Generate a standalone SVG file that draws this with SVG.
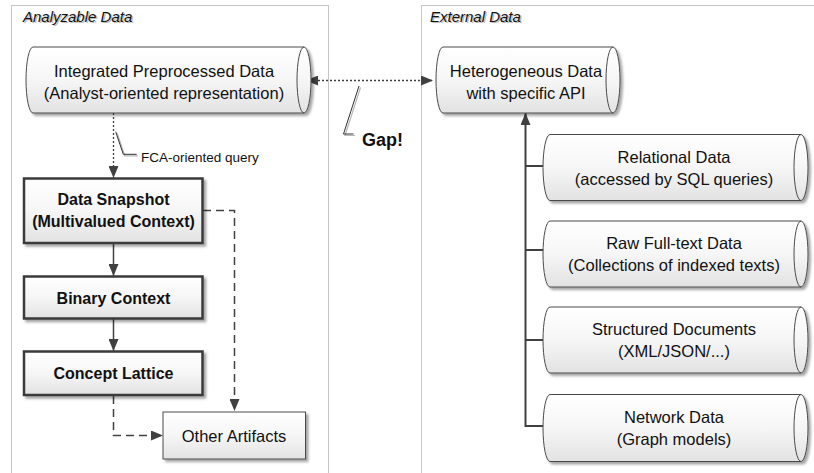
<svg xmlns="http://www.w3.org/2000/svg" width="814" height="473" viewBox="0 0 814 473">
  <style>
    .lbl { font-family: "Liberation Sans", Arial, sans-serif; font-size: 16.5px; fill: #111; text-anchor: middle; }
    .bold { font-family: "Liberation Sans", Arial, sans-serif; font-size: 16px; font-weight: bold; fill: #111; text-anchor: middle; }
    .title { font-family: "Liberation Sans", Arial, sans-serif; font-size: 15px; font-style: italic; fill: #111; }
    .title-sh { font-family: "Liberation Sans", Arial, sans-serif; font-size: 15px; font-style: italic; fill: #bdbdbd; }
    .note { font-family: "Liberation Sans", Arial, sans-serif; font-size: 13.5px; fill: #111; }
    .gap { font-family: "Liberation Sans", Arial, sans-serif; font-size: 18px; font-weight: bold; fill: #111; }
    .frame { fill: none; stroke: #8a8a8a; stroke-width: 1; stroke-dasharray: 1 1; }
    .cyl { fill: url(#shade); stroke: #4a4a4a; stroke-width: 1; }
    .cyl-end { fill: none; stroke: #4a4a4a; stroke-width: 1; }
    .box-strong { fill: url(#shade); stroke: #3a3a3a; stroke-width: 2.5; }
    .box-thin { fill: url(#shade); stroke: #4a4a4a; stroke-width: 1; }
    .solid { fill: none; stroke: #404040; stroke-width: 1.5; }
    .trunk { fill: none; stroke: #404040; stroke-width: 2; }
    .dashed { fill: none; stroke: #404040; stroke-width: 1.5; stroke-dasharray: 8 5; }
    .dotted { fill: none; stroke: #404040; stroke-width: 1.3; stroke-dasharray: 2 2; }
    .callout { fill: none; stroke: #303030; stroke-width: 1; }
    .callout-sh { fill: none; stroke: #b8b8b8; stroke-width: 1.2; }
  </style>
  <defs>
    <linearGradient id="shade" x1="0" y1="0" x2="0" y2="1">
      <stop offset="0" stop-color="#ffffff"/>
      <stop offset="0.5" stop-color="#f6f6f6"/>
      <stop offset="1" stop-color="#e2e2e2"/>
    </linearGradient>
    <filter id="drop" x="-10%" y="-10%" width="130%" height="140%">
      <feDropShadow dx="2.5" dy="2.5" stdDeviation="1.2" flood-color="#000" flood-opacity="0.35"/>
    </filter>
    <marker id="head" markerUnits="userSpaceOnUse" markerWidth="12" markerHeight="10" refX="12" refY="5" orient="auto-start-reverse">
      <path d="M0,0 L12,5 L0,10 Z" fill="#404040"/>
    </marker>
  </defs>

  <!-- containers -->
  <g id="analyzable-data">
    <rect class="frame" x="11.5" y="5.5" width="317" height="480"/>
    <text class="title-sh" x="24.5" y="23">Analyzable Data</text>
    <text class="title" x="23" y="21.5">Analyzable Data</text>
  </g>
  <g id="external-data">
    <rect class="frame" x="421.5" y="5.5" width="400" height="480"/>
    <text class="title-sh" x="431.5" y="23">External Data</text>
    <text class="title" x="430" y="21.5">External Data</text>
  </g>

  <!-- connectors -->
  <g id="connectors">
    <!-- integrated data <-> external data (gap) -->
    <line class="dotted" x1="306" y1="80.5" x2="433" y2="80.5" marker-start="url(#head)" marker-end="url(#head)"/>
    <!-- FCA-oriented query -->
    <line class="dotted" x1="113.5" y1="113" x2="113.5" y2="178" marker-end="url(#head)"/>
    <!-- FCA pipeline -->
    <line class="solid" x1="113.5" y1="244" x2="113.5" y2="276" marker-end="url(#head)"/>
    <line class="solid" x1="113.5" y1="319" x2="113.5" y2="351" marker-end="url(#head)"/>
    <!-- side outputs -->
    <path class="dashed" d="M203,210.5 H234.5 V411" marker-end="url(#head)"/>
    <path class="dashed" d="M113.5,396 V435.5 H163" marker-end="url(#head)"/>
    <!-- sources feeding the heterogeneous layer -->
    <path class="trunk" d="M544,426 H525.5 V113" marker-end="url(#head)"/>
    <line class="trunk" x1="525.5" y1="166" x2="544" y2="166"/>
    <line class="trunk" x1="525.5" y1="250" x2="546" y2="250"/>
    <line class="trunk" x1="525.5" y1="340" x2="544" y2="340"/>
  </g>

  <!-- callouts -->
  <g id="gap-callout">
    <polyline class="callout-sh" points="360.5,87.5 345,135.5 355,135.5"/>
    <polyline class="callout" points="359,86 343.5,134 353.5,134"/>
    <text class="gap" x="362" y="146">Gap!</text>
  </g>
  <g id="fca-callout">
    <polyline class="callout-sh" points="117.2,133.2 124.8,155.8 138,155.8"/>
    <polyline class="callout" points="115.7,131.7 123.3,154.3 136.7,154.3"/>
    <text class="note" x="141" y="162">FCA-oriented query</text>
  </g>

  <!-- analyzable side -->
  <g id="integrated-data">
    <path class="cyl" filter="url(#drop)" d="M33,47 H304 A7,33 0 0 1 304,113 H33 A7,33 0 0 1 33,47 Z"/>
    <path class="cyl-end" d="M304,47 A7,33 0 0 0 304,113"/>
    <text class="lbl" x="164" y="77">Integrated Preprocessed Data</text>
    <text class="lbl" x="164" y="99">(Analyst-oriented representation)</text>
  </g>
  <g id="data-snapshot">
    <rect class="box-strong" filter="url(#drop)" x="24" y="178.5" width="178.5" height="64.5"/>
    <text class="bold" x="113.5" y="205">Data Snapshot</text>
    <text class="bold" x="113.5" y="226.5">(Multivalued Context)</text>
  </g>
  <g id="binary-context">
    <rect class="box-strong" filter="url(#drop)" x="24" y="276.5" width="178.5" height="42"/>
    <text class="bold" x="113.5" y="303.5">Binary Context</text>
  </g>
  <g id="concept-lattice">
    <rect class="box-strong" filter="url(#drop)" x="24" y="351.5" width="178.5" height="43.5"/>
    <text class="bold" x="113.5" y="378.5">Concept Lattice</text>
  </g>
  <g id="other-artifacts">
    <rect class="box-thin" filter="url(#drop)" x="163" y="412" width="142.5" height="47"/>
    <text class="lbl" x="234" y="441.5">Other Artifacts</text>
  </g>

  <!-- external side -->
  <g id="heterogeneous-data">
    <path class="cyl" filter="url(#drop)" d="M443,47 H613 A7,33 0 0 1 613,113 H443 A7,33 0 0 1 443,47 Z"/>
    <path class="cyl-end" d="M613,47 A7,33 0 0 0 613,113"/>
    <text class="lbl" x="526" y="77">Heterogeneous Data</text>
    <text class="lbl" x="526" y="98.5">with specific API</text>
  </g>
  <g id="relational-data">
    <path class="cyl" filter="url(#drop)" d="M550,134.5 H801 A7,33 0 0 1 801,200.5 H550 A7,33 0 0 1 550,134.5 Z"/>
    <path class="cyl-end" d="M801,134.5 A7,33 0 0 0 801,200.5"/>
    <text class="lbl" x="674" y="162.5">Relational Data</text>
    <text class="lbl" x="674" y="184.5">(accessed by SQL queries)</text>
  </g>
  <g id="raw-fulltext-data">
    <path class="cyl" filter="url(#drop)" d="M550,221 H801 A7,33 0 0 1 801,287 H550 A7,33 0 0 1 550,221 Z"/>
    <path class="cyl-end" d="M801,221 A7,33 0 0 0 801,287"/>
    <text class="lbl" x="674" y="249">Raw Full-text Data</text>
    <text class="lbl" x="674" y="271">(Collections of indexed texts)</text>
  </g>
  <g id="structured-documents">
    <path class="cyl" filter="url(#drop)" d="M550,307 H801 A7,33 0 0 1 801,373 H550 A7,33 0 0 1 550,307 Z"/>
    <path class="cyl-end" d="M801,307 A7,33 0 0 0 801,373"/>
    <text class="lbl" x="674" y="335">Structured Documents</text>
    <text class="lbl" x="674" y="357">(XML/JSON/...)</text>
  </g>
  <g id="network-data">
    <path class="cyl" filter="url(#drop)" d="M550,394.5 H801 A7,33.5 0 0 1 801,461.5 H550 A7,33.5 0 0 1 550,394.5 Z"/>
    <path class="cyl-end" d="M801,394.5 A7,33.5 0 0 0 801,461.5"/>
    <text class="lbl" x="674" y="422.5">Network Data</text>
    <text class="lbl" x="674" y="444.5">(Graph models)</text>
  </g>
</svg>
